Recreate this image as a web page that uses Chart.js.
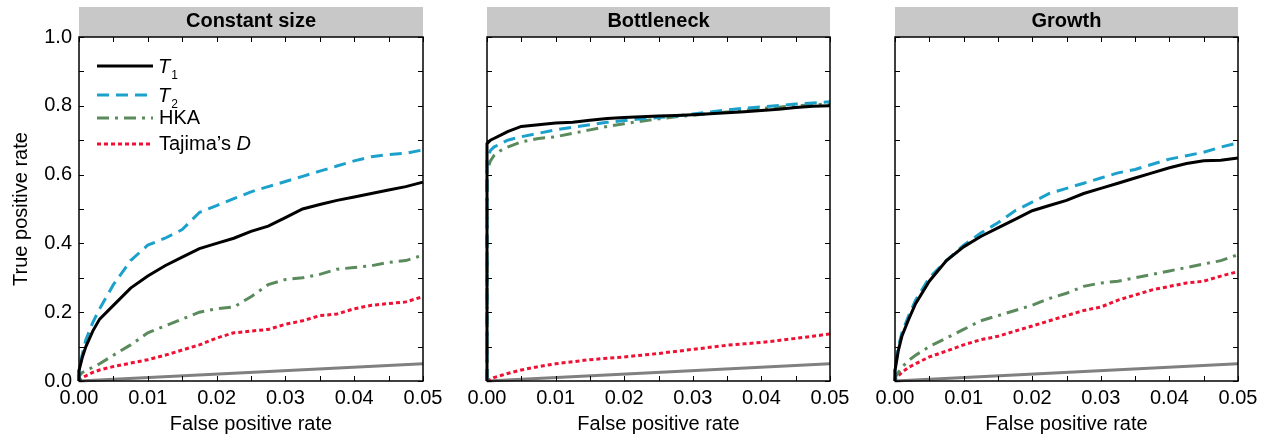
<!DOCTYPE html>
<html>
<head>
<meta charset="utf-8">
<script src="https://cdn.jsdelivr.net/npm/chart.js@4.4.1/dist/chart.umd.min.js"></script>
<style>
  html, body { margin: 0; padding: 0; background: #fff; }
  #wrap { position: relative; width: 1270px; height: 442px; overflow: hidden; }
  canvas { position: absolute; top: 0; }
</style>
</head>
<body>
<div id="wrap">
  <canvas id="c1" width="450" height="442" style="left:0px"></canvas>
  <canvas id="c2" width="410" height="442" style="left:450px"></canvas>
  <canvas id="c3" width="410" height="442" style="left:860px"></canvas>
</div>
<script>
// shared false positive rate grid (0 appears twice so a curve can jump at x = 0)
const fpr = [0, 0, 0.0005, 0.001, 0.002, 0.003, 0.005, 0.0075, 0.01, 0.0125, 0.015, 0.0175, 0.02,
             0.0225, 0.025, 0.0275, 0.03, 0.0325, 0.035, 0.0375, 0.04, 0.0425, 0.045, 0.0475, 0.05];

// Constant size
const constT1  = [0, 0.03, 0.07, 0.10, 0.145, 0.18, 0.22, 0.27, 0.305, 0.335, 0.36, 0.385, 0.40, 0.415, 0.435, 0.45, 0.475, 0.50, 0.513, 0.525, 0.535, 0.545, 0.555, 0.565, 0.578];
const constT2  = [0, 0.03, 0.08, 0.12, 0.17, 0.21, 0.28, 0.35, 0.395, 0.415, 0.44, 0.49, 0.51, 0.53, 0.55, 0.565, 0.58, 0.595, 0.61, 0.625, 0.64, 0.652, 0.658, 0.662, 0.672];
const constHKA = [0, 0.015, 0.025, 0.03, 0.04, 0.05, 0.075, 0.105, 0.14, 0.16, 0.18, 0.2, 0.21, 0.215, 0.245, 0.28, 0.295, 0.30, 0.31, 0.325, 0.33, 0.335, 0.345, 0.35, 0.366];
const constTaj = [0, 0.003, 0.01, 0.015, 0.025, 0.032, 0.042, 0.052, 0.062, 0.075, 0.09, 0.105, 0.125, 0.14, 0.145, 0.15, 0.165, 0.175, 0.19, 0.195, 0.21, 0.22, 0.225, 0.23, 0.245];

// Bottleneck
const bottT1  = [0, 0.69, 0.70, 0.705, 0.715, 0.725, 0.74, 0.745, 0.75, 0.752, 0.758, 0.763, 0.766, 0.768, 0.77, 0.772, 0.774, 0.777, 0.78, 0.783, 0.786, 0.79, 0.795, 0.799, 0.80];
const bottT2  = [0, 0.64, 0.67, 0.68, 0.69, 0.70, 0.71, 0.72, 0.73, 0.738, 0.745, 0.752, 0.757, 0.762, 0.766, 0.77, 0.776, 0.782, 0.788, 0.793, 0.797, 0.801, 0.805, 0.808, 0.812];
const bottHKA = [0, 0.61, 0.64, 0.655, 0.67, 0.68, 0.695, 0.705, 0.71, 0.72, 0.73, 0.74, 0.748, 0.755, 0.762, 0.768, 0.772, 0.778, 0.782, 0.787, 0.792, 0.796, 0.8, 0.803, 0.806];
const bottTaj = [0, 0, 0.005, 0.01, 0.016, 0.022, 0.032, 0.042, 0.05, 0.056, 0.062, 0.066, 0.07, 0.075, 0.08, 0.086, 0.092, 0.098, 0.104, 0.108, 0.112, 0.118, 0.124, 0.13, 0.137];

// Growth
const growT1  = [0, 0.03, 0.09, 0.13, 0.18, 0.225, 0.29, 0.35, 0.39, 0.42, 0.445, 0.47, 0.495, 0.51, 0.525, 0.545, 0.56, 0.575, 0.59, 0.605, 0.62, 0.632, 0.64, 0.642, 0.648];
const growT2  = [0, 0.04, 0.10, 0.14, 0.19, 0.235, 0.30, 0.35, 0.395, 0.43, 0.46, 0.495, 0.52, 0.545, 0.56, 0.575, 0.59, 0.605, 0.615, 0.63, 0.645, 0.655, 0.665, 0.68, 0.692];
const growHKA = [0, 0.01, 0.025, 0.04, 0.06, 0.075, 0.1, 0.125, 0.15, 0.175, 0.19, 0.205, 0.22, 0.24, 0.255, 0.275, 0.285, 0.29, 0.3, 0.31, 0.32, 0.33, 0.34, 0.35, 0.367];
const growTaj = [0, 0.005, 0.015, 0.025, 0.04, 0.05, 0.07, 0.087, 0.105, 0.12, 0.13, 0.145, 0.16, 0.175, 0.19, 0.205, 0.215, 0.235, 0.25, 0.265, 0.275, 0.285, 0.29, 0.305, 0.318];

// random classifier reference line
const diagFpr = [0, 0.05];
const diagTpr = [0, 0.05];

const FONT = '"Liberation Sans", Arial, sans-serif';

const styles = {
  T1:  { color: '#000000', dash: [] },
  T2:  { color: '#1ba1cb', dash: [12, 7] },
  HKA: { color: '#5b8a5d', dash: [12, 6, 3, 6] },
  Taj: { color: '#ee1133', dash: [4, 3] }
};

function pts(xs, ys) {
  return xs.map((v, i) => ({ x: v, y: ys[i] }));
}

function makeSets(t1, t2, hka, taj) {
  return [
    { data: pts(fpr, t1),  borderColor: styles.T1.color,  borderDash: styles.T1.dash,  order: 1 },
    { data: pts(fpr, t2),  borderColor: styles.T2.color,  borderDash: styles.T2.dash,  order: 2 },
    { data: pts(fpr, hka), borderColor: styles.HKA.color, borderDash: styles.HKA.dash, order: 3 },
    { data: pts(fpr, taj), borderColor: styles.Taj.color, borderDash: styles.Taj.dash, order: 4 },
    { data: pts(diagFpr, diagTpr), borderColor: '#808080', borderDash: [], order: 5 }
  ].map(d => Object.assign(d, { borderWidth: 3, pointRadius: 0, tension: 0, fill: false, clip: 3 }));
}

// header strip, box and inward ticks
const frame = {
  id: 'frame',
  beforeDraw(chart, args, opts) {
    const { ctx, chartArea: a } = chart;
    ctx.save();
    ctx.fillStyle = '#c8c8c8';
    ctx.fillRect(a.left, 7, a.right - a.left, a.top - 7);
    ctx.fillStyle = '#000';
    ctx.font = 'bold 20px ' + FONT;
    ctx.textAlign = 'center';
    ctx.textBaseline = 'middle';
    ctx.fillText(opts.title, (a.left + a.right) / 2, 21);
    ctx.restore();
  },
  afterDatasetsDraw(chart) {
    const { ctx, chartArea: a, scales: { x, y } } = chart;
    ctx.save();
    ctx.strokeStyle = '#000';
    ctx.lineWidth = 1;
    ctx.beginPath();
    for (let i = 0; i <= 10; i++) {
      const px = Math.round(x.getPixelForValue(i * 0.005)) + 0.5;
      ctx.moveTo(px, a.bottom); ctx.lineTo(px, a.bottom - 5);
      ctx.moveTo(px, a.top); ctx.lineTo(px, a.top + 5);
    }
    for (let i = 0; i <= 10; i++) {
      const py = Math.round(y.getPixelForValue(i * 0.1)) + 0.5;
      ctx.moveTo(a.left, py); ctx.lineTo(a.left + 5, py);
      ctx.moveTo(a.right, py); ctx.lineTo(a.right - 5, py);
    }
    ctx.stroke();
    ctx.lineWidth = 1.5;
    ctx.strokeRect(a.left, a.top, a.right - a.left, a.bottom - a.top);
    ctx.restore();
  }
};

// legend drawn inside the first panel
const legendBox = {
  id: 'legendBox',
  afterDraw(chart) {
    const ctx = chart.ctx;
    const rows = [
      { s: styles.T1,  y: 66,  label: ['T', '1'] },
      { s: styles.T2,  y: 95,  label: ['T', '2'] },
      { s: styles.HKA, y: 118, label: ['HKA'] },
      { s: styles.Taj, y: 144, label: ['Tajima\u2019s ', 'D'] }
    ];
    ctx.save();
    rows.forEach(r => {
      ctx.strokeStyle = r.s.color;
      ctx.lineWidth = 3;
      ctx.setLineDash(r.s.dash);
      ctx.beginPath();
      ctx.moveTo(97, r.y); ctx.lineTo(153, r.y);
      ctx.stroke();
      ctx.setLineDash([]);
      ctx.fillStyle = '#000';
      ctx.textBaseline = 'middle';
      ctx.textAlign = 'left';
      if (r.label[0] === 'T') {
        ctx.font = 'italic 20px ' + FONT;
        ctx.fillText('T', 158, r.y + 1);
        const w = ctx.measureText('T').width;
        ctx.font = '12px ' + FONT;
        ctx.fillText(r.label[1], 158 + w + 1, r.y + 10);
      } else if (r.label.length === 2) {
        ctx.font = '20px ' + FONT;
        ctx.fillText(r.label[0], 159, r.y);
        const w = ctx.measureText(r.label[0]).width;
        ctx.font = 'italic 20px ' + FONT;
        ctx.fillText(r.label[1], 159 + w, r.y);
      } else {
        ctx.font = '20px ' + FONT;
        ctx.fillText(r.label[0], 159, r.y);
      }
    });
    ctx.restore();
  }
};

function makeChart(id, title, sets, showY, padL, padR, plugins) {
  new Chart(document.getElementById(id), {
    type: 'line',
    data: { datasets: sets },
    plugins: [frame].concat(plugins || []),
    options: {
      responsive: false,
      animation: false,
      layout: { padding: { top: 37, left: padL, right: padR, bottom: 0 } },
      plugins: { legend: { display: false }, tooltip: { enabled: false }, frame: { title: title } },
      scales: {
        x: {
          type: 'linear', min: 0, max: 0.05,
          grid: { display: false, drawTicks: false },
          border: { display: false },
          ticks: {
            stepSize: 0.01, autoSkip: false, maxRotation: 0, padding: 5,
            color: '#000', font: { family: FONT, size: 20 },
            callback: v => v.toFixed(2)
          },
          title: { display: true, text: 'False positive rate', color: '#000',
                   font: { family: FONT, size: 20 }, padding: { top: 0, bottom: 6 } },
          afterFit: s => { s.height = 61; s.paddingLeft = 0; s.paddingRight = 0; }
        },
        y: {
          type: 'linear', min: 0, max: 1, display: showY,
          grid: { display: false, drawTicks: false },
          border: { display: false },
          ticks: {
            stepSize: 0.2, padding: 7,
            color: '#000', font: { family: FONT, size: 20 },
            callback: v => v.toFixed(1)
          },
          title: { display: true, text: 'True positive rate', color: '#000',
                   font: { family: FONT, size: 20 }, padding: { top: 9, bottom: 0 } },
          afterFit: s => { s.width = showY ? 79 : 0; s.paddingTop = 0; s.paddingBottom = 0; }
        }
      }
    }
  });
}

makeChart('c1', 'Constant size', makeSets(constT1, constT2, constHKA, constTaj), true, 0, 27, [legendBox]);
makeChart('c2', 'Bottleneck', makeSets(bottT1, bottT2, bottHKA, bottTaj), false, 37, 30);
makeChart('c3', 'Growth', makeSets(growT1, growT2, growHKA, growTaj), false, 35, 32);
</script>
</body>
</html>
